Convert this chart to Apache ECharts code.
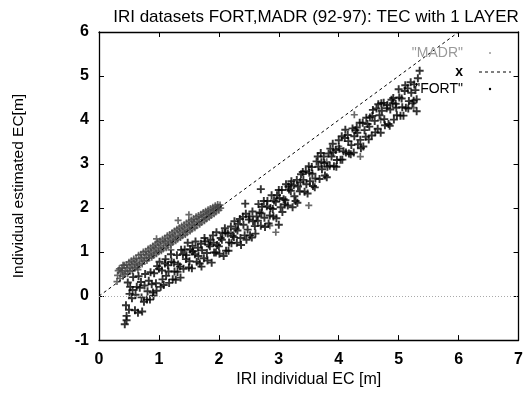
<!DOCTYPE html>
<html>
<head>
<meta charset="utf-8">
<script src="https://cdn.jsdelivr.net/npm/echarts@6/dist/echarts.min.js"></script>
<style>
  html, body { margin: 0; padding: 0; background: #fff; }
  #chart { width: 526px; height: 393px; }
</style>
</head>
<body>
<div id="chart"></div>
<script>
// MADR: the tight upper band plus a few scattered points
const madrPoints = [
  [0.30,0.33],[0.32,0.58],[0.31,0.47],[0.35,0.40],[0.34,0.62],[0.36,0.53],
  [0.38,0.64],[0.40,0.45],[0.39,0.57],[0.43,0.49],[0.42,0.70],[0.44,0.58],
  [0.46,0.72],[0.48,0.51],[0.47,0.63],[0.51,0.56],[0.50,0.77],[0.52,0.66],
  [0.54,0.80],[0.56,0.58],[0.55,0.71],[0.59,0.63],[0.58,0.84],[0.60,0.73],
  [0.62,0.86],[0.64,0.66],[0.63,0.77],[0.67,0.70],[0.66,0.93],[0.68,0.82],
  [0.70,0.95],[0.72,0.73],[0.71,0.86],[0.75,0.79],[0.74,1.00],[0.76,0.88],
  [0.78,1.02],[0.80,0.81],[0.79,0.93],[0.83,0.86],[0.82,1.07],[0.84,0.96],
  [0.86,1.10],[0.88,0.88],[0.87,1.00],[0.91,0.92],[0.90,1.14],[0.92,1.04],
  [0.94,1.18],[0.96,0.96],[0.95,1.08],[0.99,1.00],[0.98,1.22],[1.00,1.11],
  [1.02,1.25],[1.04,1.03],[1.03,1.15],[1.07,1.07],[1.06,1.29],[1.08,1.19],
  [1.10,1.32],[1.12,1.10],[1.11,1.23],[1.15,1.15],[1.14,1.37],[1.16,1.26],
  [1.18,1.40],[1.20,1.18],[1.19,1.30],[1.23,1.22],[1.22,1.44],[1.24,1.34],
  [1.26,1.48],[1.28,1.26],[1.27,1.37],[1.31,1.29],[1.30,1.52],[1.32,1.41],
  [1.34,1.55],[1.36,1.33],[1.35,1.45],[1.39,1.37],[1.38,1.59],[1.40,1.48],
  [1.42,1.62],[1.44,1.40],[1.43,1.52],[1.47,1.44],[1.46,1.66],[1.48,1.56],
  [1.50,1.70],[1.52,1.48],[1.51,1.60],[1.55,1.52],[1.54,1.73],[1.56,1.63],
  [1.58,1.76],[1.60,1.55],[1.59,1.67],[1.63,1.60],[1.62,1.80],[1.64,1.70],
  [1.66,1.83],[1.68,1.63],[1.67,1.74],[1.71,1.67],[1.70,1.86],[1.72,1.78],
  [1.74,1.90],[1.76,1.71],[1.75,1.81],[1.79,1.75],[1.78,1.93],[1.80,1.85],
  [1.82,1.96],[1.84,1.79],[1.83,1.88],[1.87,1.83],[1.86,1.99],[1.88,1.91],
  [1.90,2.02],[1.92,1.87],[1.91,1.95],[1.95,1.91],[1.94,2.05],[1.96,1.98],
  [1.98,2.08],[2.00,1.95],[1.99,2.02],[2.03,2.00],[2.02,2.07],
  [1.32,1.72],[1.50,1.85],[0.96,1.30],[0.40,0.70],[1.20,1.05],[0.65,0.60],
  [2.85,1.60],[2.95,1.45],[3.50,2.06],[4.26,4.12],[4.36,3.17],[5.25,4.28],
  [3.20,2.55],[4.00,3.40],[1.55,1.00],[2.20,1.45],[4.70,4.00],[3.80,3.05]
];

// FORT: the lower, wider band of "+" marks
const fortPoints = [
  [0.43,-0.64],[0.46,-0.55],
  [0.45,-0.21],[0.48,0.31],[0.46,-0.45],[0.51,0.05],[0.52,0.21],[0.50,-0.31],
  [0.57,0.43],[0.55,-0.05],[0.56,0.14],[0.60,-0.32],[0.63,0.21],[0.61,0.03],
  [0.66,0.45],[0.65,-0.38],[0.68,0.19],[0.70,0.32],[0.72,-0.35],[0.71,-0.03],
  [0.77,0.50],[0.75,-0.13],[0.76,0.24],[0.80,-0.08],[0.83,0.35],[0.81,0.11],
  [0.86,0.54],[0.85,-0.08],[0.88,0.27],[0.90,0.08],[0.92,0.52],[0.91,0.01],
  [0.97,0.68],[0.95,0.29],[0.96,0.12],[1.00,0.62],[1.03,0.21],[1.01,0.78],
  [1.06,0.38],[1.05,0.58],[1.08,0.25],[1.10,0.74],[1.12,0.46],[1.11,0.84],
  [1.17,0.30],[1.15,0.70],[1.16,0.56],[1.20,0.95],[1.23,0.38],[1.21,0.78],
  [1.26,0.56],[1.25,0.76],[1.28,0.37],[1.30,0.93],[1.32,0.72],[1.31,0.55],
  [1.37,1.05],[1.35,0.67],[1.36,0.42],[1.40,0.95],[1.43,1.06],[1.41,0.62],
  [1.46,0.93],[1.45,0.84],[1.48,1.21],[1.50,0.65],[1.52,1.06],[1.51,0.79],
  [1.57,1.02],[1.55,0.63],[1.56,1.14],[1.60,0.95],[1.63,0.78],[1.61,1.24],
  [1.66,0.91],[1.65,1.10],[1.68,0.74],[1.70,1.19],[1.72,1.04],[1.71,0.67],
  [1.77,1.24],[1.75,0.86],[1.76,1.32],[1.80,0.98],[1.83,1.17],[1.81,0.81],
  [1.86,1.28],[1.85,1.13],[1.88,0.76],[1.90,1.38],[1.92,0.99],[1.91,1.21],
  [1.97,1.16],[1.95,0.99],[1.96,1.45],[2.00,1.13],[2.03,1.32],[2.01,0.96],
  [2.06,1.43],[2.05,1.28],[2.08,0.91],[2.10,1.54],[2.12,1.03],[2.11,1.44],
  [2.17,1.22],[2.15,1.42],[2.16,1.03],[2.20,1.58],[2.23,1.37],[2.21,1.20],
  [2.26,1.70],[2.25,1.34],[2.28,1.53],[2.30,1.21],[2.32,1.64],[2.31,1.49],
  [2.37,1.16],[2.35,1.75],[2.36,1.32],[2.40,1.80],[2.43,1.38],[2.41,1.62],
  [2.46,1.28],[2.45,1.87],[2.48,1.51],[2.50,1.74],[2.52,1.38],[2.51,1.81],
  [2.57,1.70],[2.55,1.33],[2.56,1.92],[2.60,1.59],[2.63,1.81],[2.61,1.42],
  [2.66,2.09],[2.65,1.71],[2.68,1.90],[2.70,1.60],[2.72,2.03],[2.71,1.88],
  [2.77,1.57],[2.75,2.16],[2.76,1.78],[2.80,2.04],[2.83,1.65],[2.81,2.16],
  [2.86,2.00],[2.85,1.83],[2.88,2.29],[2.90,1.98],[2.92,2.17],[2.91,1.81],
  [2.97,2.29],[2.95,2.14],[2.96,1.77],[3.00,2.41],[3.03,2.02],[3.01,2.23],
  [3.06,1.91],[3.05,2.41],[3.08,2.20],[3.10,2.08],[3.12,2.54],[3.11,2.18],
  [3.17,2.42],[3.15,2.06],[3.16,2.49],[3.20,2.39],[3.23,2.02],[3.21,2.61],
  [3.26,2.27],[3.25,2.52],[3.28,2.16],[3.30,2.64],[3.32,2.49],[3.31,2.12],
  [3.37,2.77],[3.35,2.38],[3.36,2.59],[3.40,2.82],[3.43,2.37],[3.41,2.64],
  [3.46,2.54],[3.45,2.84],[3.48,2.33],[3.50,2.95],[3.52,2.61],[3.51,2.80],
  [3.57,2.50],[3.55,2.93],[3.56,2.78],[3.60,2.47],[3.63,3.06],[3.61,2.67],
  [3.66,2.94],[3.65,3.17],[3.68,2.66],[3.70,3.25],[3.72,2.88],[3.71,3.04],
  [3.77,2.74],[3.75,3.17],[3.76,3.02],[3.80,2.70],[3.83,3.24],[3.81,2.94],
  [3.86,3.35],[3.85,2.96],[3.88,3.17],[3.90,3.46],[3.92,2.95],[3.91,3.27],
  [3.97,3.09],[3.95,3.32],[3.96,2.94],[4.00,3.54],[4.03,3.10],[4.01,3.35],
  [4.06,3.10],[4.05,3.63],[4.08,3.29],[4.10,3.59],[4.12,3.26],[4.11,3.78],
  [4.17,3.24],[4.15,3.66],[4.16,3.52],[4.20,3.22],[4.23,3.81],[4.21,3.43],
  [4.26,3.63],[4.25,3.26],[4.28,3.77],[4.30,3.83],[4.32,3.45],[4.31,3.71],
  [4.37,3.36],[4.35,3.94],[4.36,3.55],[4.40,3.94],[4.43,3.77],[4.41,3.40],
  [4.46,4.05],[4.45,3.62],[4.48,3.91],[4.50,3.56],[4.52,4.06],[4.51,3.85],
  [4.57,4.23],[4.55,3.65],[4.56,4.09],[4.60,3.98],[4.63,4.26],[4.61,3.72],
  [4.66,4.36],[4.65,3.80],[4.68,4.11],[4.70,3.71],[4.72,4.21],[4.71,4.38],
  [4.77,3.88],[4.75,4.39],[4.76,4.02],[4.80,4.27],[4.83,3.91],[4.81,4.34],
  [4.86,4.24],[4.85,3.87],[4.88,4.46],[4.90,4.38],[4.92,4.01],[4.91,4.50],
  [4.97,4.11],[4.95,4.37],[4.96,4.28],[5.00,4.70],[5.03,4.10],[5.01,4.51],
  [5.06,4.29],[5.05,4.49],[5.08,4.10],[5.10,4.66],[5.12,4.28],[5.11,4.79],
  [5.17,4.43],[5.15,4.72],[5.16,4.26],[5.20,4.86],[5.23,4.38],[5.21,4.62],
  [5.26,4.81],[5.25,4.44],[5.28,4.68],[5.30,4.47],[5.32,4.95],[5.35,5.12],
  [2.44,2.10],[2.70,2.43],[3.00,1.62],[5.30,4.20]
];

// the "x" reference line (y = x) and the zero axis
const identityLine = [[0, 0], [6, 6]];
const zeroLevel = 0;

const FONT = 'Liberation Sans, Arial, Helvetica, sans-serif';
const plus = 'path://M3.8,0H6.2V3.8H10V6.2H6.2V10H3.8V6.2H0V3.8H3.8Z';

const chart = echarts.init(document.getElementById('chart'));

const axisCommon = {
  type: 'value',
  axisLine: { show: true, onZero: false, lineStyle: { color: '#000', width: 1.3 } },
  axisTick: { show: true, inside: true, length: 5, lineStyle: { color: '#000' } },
  splitLine: { show: false }
};

chart.setOption({
  animation: false,
  backgroundColor: '#fff',
  title: {
    text: 'IRI datasets FORT,MADR (92-97): TEC with 1 LAYER',
    left: 311,
    textAlign: 'center',
    top: 4,
    textStyle: { fontFamily: FONT, fontSize: 17, fontWeight: 'normal', color: '#000' }
  },
  grid: { left: 99, right: 3, top: 32, bottom: 46 },
  xAxis: [
    Object.assign({}, axisCommon, {
      min: 0, max: 7, interval: 1, position: 'bottom',
      axisLabel: { color: '#000', fontFamily: FONT, fontSize: 16, fontWeight: 'bold', margin: 11 },
      name: 'IRI individual EC [m]',
      nameLocation: 'middle',
      nameGap: 30,
      nameTextStyle: { color: '#000', fontFamily: FONT, fontSize: 16 }
    }),
    Object.assign({}, axisCommon, {
      min: 0, max: 7, interval: 1, position: 'top',
      axisLabel: { show: false }
    })
  ],
  yAxis: [
    Object.assign({}, axisCommon, {
      min: -1, max: 6, interval: 1, position: 'left',
      axisLabel: { color: '#000', fontFamily: FONT, fontSize: 16, fontWeight: 'bold', margin: 10 },
      name: 'Individual estimated EC[m]',
      nameLocation: 'middle',
      nameGap: 72,
      nameTextStyle: { color: '#000', fontFamily: FONT, fontSize: 15.5 }
    }),
    Object.assign({}, axisCommon, {
      min: -1, max: 6, interval: 1, position: 'right',
      axisLabel: { show: false }
    })
  ],
  series: [
    {
      name: 'MADR',
      type: 'scatter',
      data: madrPoints,
      symbol: plus,
      symbolSize: 7,
      itemStyle: { color: '#454545' },
      silent: true
    },
    {
      name: 'x',
      type: 'line',
      data: identityLine,
      showSymbol: false,
      lineStyle: { color: '#000', width: 1, type: [3, 3] },
      silent: true,
      markLine: {
        silent: true,
        symbol: 'none',
        label: { show: false },
        lineStyle: { color: '#aaa', width: 1, type: [1, 2] },
        data: [{ yAxis: zeroLevel }]
      }
    },
    {
      name: 'FORT',
      type: 'scatter',
      data: fortPoints,
      symbol: plus,
      symbolSize: 8,
      itemStyle: { color: '#000' },
      silent: true
    }
  ],
  graphic: [
    { type: 'text', x: 463, y: 53, z: 100,
      style: { text: '"MADR"', align: 'right', verticalAlign: 'middle', font: '14px ' + FONT, fill: '#999' } },
    { type: 'circle', shape: { cx: 490, cy: 53, r: 1 }, style: { fill: '#999' }, z: 100 },
    { type: 'text', x: 463, y: 72, z: 100,
      style: { text: 'x', align: 'right', verticalAlign: 'middle', font: 'bold 14px ' + FONT, fill: '#000' } },
    { type: 'line', shape: { x1: 479, y1: 72, x2: 511, y2: 72 }, z: 100,
      style: { stroke: '#000', lineWidth: 1, lineDash: [3, 3] } },
    { type: 'text', x: 463, y: 89, z: 100,
      style: { text: '"FORT"', align: 'right', verticalAlign: 'middle', font: '14px ' + FONT, fill: '#000' } },
    { type: 'circle', shape: { cx: 490, cy: 89, r: 1.2 }, style: { fill: '#000' }, z: 100 }
  ]
});
</script>
</body>
</html>
